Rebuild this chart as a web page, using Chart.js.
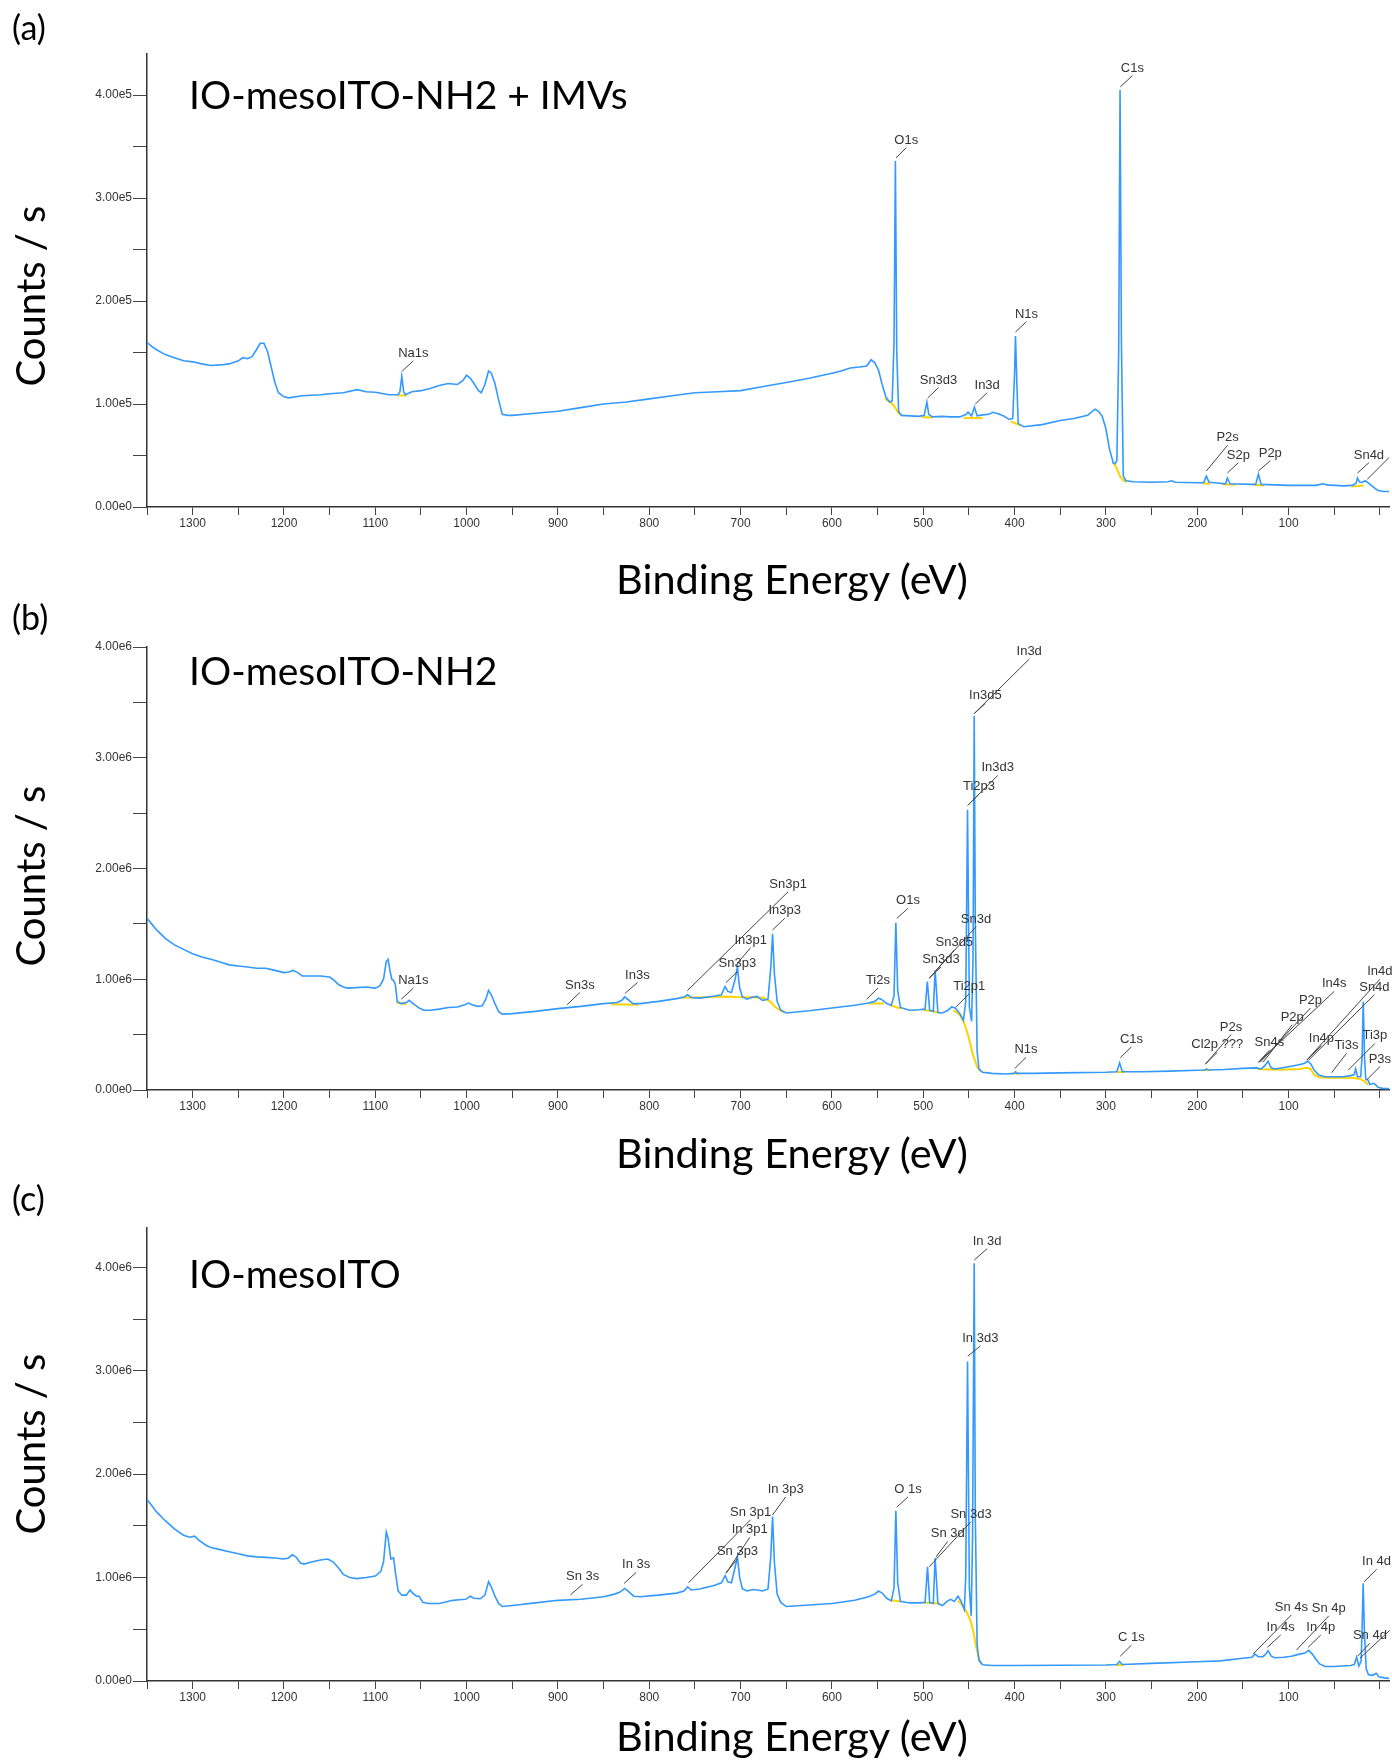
<!DOCTYPE html>
<html>
<head>
<meta charset="utf-8">
<script src="https://cdn.jsdelivr.net/npm/chart.js@4.4.1/dist/chart.umd.min.js"></script>
<style>
  body { margin: 0; background: #fff; width: 1392px; height: 1762px; position: relative; overflow: hidden; }
  canvas { position: absolute; left: 0; }
  .txt { position: absolute; font-family: Lato, "Open Sans", sans-serif; color: #000; line-height: 1; white-space: nowrap; }
  .tag { font-size: 34px; left: 12px; }
  .name { font-size: 39px; left: 189px; }
  .xt { font-size: 41.5px; left: 592px; width: 400px; text-align: center; }
  .yt { font-size: 40px; transform: translate(-50%, -50%) rotate(-90deg); left: 30px; }
</style>
</head>
<body>
<canvas id="chartA" width="1392" height="600" style="top:0px"></canvas>
<canvas id="chartB" width="1392" height="560" style="top:600px"></canvas>
<canvas id="chartC" width="1392" height="602" style="top:1160px"></canvas>

<div class="txt tag" style="top:10px">(a)</div>
<div class="txt name" style="top:75px">IO-mesoITO-NH2 + IMVs</div>
<div class="txt yt" style="top:296px">Counts / s</div>
<div class="txt xt" style="top:558px">Binding Energy (eV)</div>

<div class="txt tag" style="top:600px">(b)</div>
<div class="txt name" style="top:651px">IO-mesoITO-NH2</div>
<div class="txt yt" style="top:876px">Counts / s</div>
<div class="txt xt" style="top:1132px">Binding Energy (eV)</div>

<div class="txt tag" style="top:1181px">(c)</div>
<div class="txt name" style="top:1254px">IO-mesoITO</div>
<div class="txt yt" style="top:1444px">Counts / s</div>
<div class="txt xt" style="top:1715px">Binding Energy (eV)</div>

<script>
// x axis (binding energy, eV), shown reversed
const xMin = -10, xMax = 1350;
const xLabels = [1300, 1200, 1100, 1000, 900, 800, 700, 600, 500, 400, 300, 200, 100];

// ---------- (a) IO-mesoITO-NH2 + IMVs ----------
const aBlueBE = [1350, 1345, 1340, 1330, 1320, 1310, 1300, 1290, 1280, 1270, 1260, 1250, 1245, 1240, 1235, 1230, 1226, 1222, 1218, 1214, 1210, 1206, 1200, 1195, 1180, 1160, 1150, 1135, 1120, 1110, 1100, 1085, 1075, 1073, 1071, 1069, 1067, 1060, 1050, 1040, 1030, 1020, 1010, 1004, 1000, 996, 992, 987, 984, 980, 976, 973, 969, 965, 961, 955, 950, 925, 900, 875, 850, 825, 800, 775, 750, 725, 700, 675, 650, 625, 600, 590, 580, 570, 562, 557, 553, 549, 545, 541, 537, 534, 532, 530.5, 529, 527, 524, 515, 505, 499, 496, 494, 490, 480, 470, 460, 453, 451, 447, 444, 441, 435, 428, 424, 418, 412, 406, 402, 400, 399, 397.5, 396, 390, 370, 350, 335, 320, 312, 308, 304, 300, 296, 292, 290, 288, 286, 284.5, 283, 281, 278, 270, 250, 232, 228, 224, 200, 193, 190, 187, 175, 169, 167, 164, 140, 136, 133, 130, 100, 70, 62, 58, 40, 30, 26, 24.5, 22, 19, 16, 12, 6, 2, -4, -10];
const aBlueCps = [1.60e5, 1.56e5, 1.53e5, 1.48e5, 1.45e5, 1.42e5, 1.41e5, 1.39e5, 1.375e5, 1.38e5, 1.39e5, 1.42e5, 1.45e5, 1.44e5, 1.46e5, 1.53e5, 1.59e5, 1.59e5, 1.51e5, 1.36e5, 1.21e5, 1.11e5, 1.07e5, 1.06e5, 1.08e5, 1.09e5, 1.10e5, 1.11e5, 1.14e5, 1.12e5, 1.115e5, 1.09e5, 1.09e5, 1.12e5, 1.27e5, 1.12e5, 1.09e5, 1.12e5, 1.13e5, 1.15e5, 1.18e5, 1.20e5, 1.19e5, 1.23e5, 1.28e5, 1.25e5, 1.20e5, 1.13e5, 1.11e5, 1.19e5, 1.32e5, 1.30e5, 1.20e5, 1.04e5, 0.90e5, 0.89e5, 0.89e5, 0.91e5, 0.93e5, 0.965e5, 1.00e5, 1.02e5, 1.05e5, 1.08e5, 1.11e5, 1.12e5, 1.13e5, 1.17e5, 1.21e5, 1.25e5, 1.30e5, 1.32e5, 1.35e5, 1.36e5, 1.37e5, 1.43e5, 1.40e5, 1.33e5, 1.19e5, 1.07e5, 1.02e5, 1.03e5, 1.60e5, 3.36e5, 1.50e5, 0.93e5, 0.89e5, 0.885e5, 0.88e5, 0.89e5, 1.02e5, 0.90e5, 0.875e5, 0.88e5, 0.875e5, 0.875e5, 0.90e5, 0.92e5, 0.885e5, 0.97e5, 0.885e5, 0.895e5, 0.90e5, 0.92e5, 0.905e5, 0.885e5, 0.85e5, 0.86e5, 1.30e5, 1.66e5, 1.20e5, 0.81e5, 0.78e5, 0.80e5, 0.84e5, 0.86e5, 0.89e5, 0.95e5, 0.93e5, 0.88e5, 0.76e5, 0.56e5, 0.43e5, 0.42e5, 0.45e5, 1.50e5, 4.05e5, 1.60e5, 0.30e5, 0.255e5, 0.245e5, 0.24e5, 0.245e5, 0.255e5, 0.24e5, 0.235e5, 0.235e5, 0.30e5, 0.24e5, 0.23e5, 0.225e5, 0.28e5, 0.225e5, 0.22e5, 0.22e5, 0.32e5, 0.22e5, 0.21e5, 0.21e5, 0.225e5, 0.215e5, 0.205e5, 0.21e5, 0.23e5, 0.28e5, 0.24e5, 0.24e5, 0.255e5, 0.23e5, 0.185e5, 0.16e5, 0.15e5, 0.15e5];
const aBgBE = [1076, 1066, 1060, 542, 536, 531, 527, 522, 515, 502, 490, 480, 456, 435, 430, 404, 393, 390, 293, 290, 287, 284, 281, 278, 270, 194, 186, 180, 173, 158, 150, 138, 127, 120, 31, 18];
const aBgCps = [1.085e5, 1.08e5, null, 1.05e5, 1.02e5, 0.97e5, 0.91e5, 0.885e5, null, 0.875e5, 0.87e5, null, 0.865e5, 0.865e5, null, 0.83e5, 0.79e5, null, 0.43e5, 0.41e5, 0.35e5, 0.29e5, 0.26e5, 0.245e5, null, 0.23e5, 0.225e5, null, 0.22e5, 0.215e5, null, 0.215e5, 0.21e5, null, 0.20e5, 0.21e5];
// [label, BE at line foot, cps at line foot, BE at line head, cps at line head]
const aPeaks = [
  ['Na1s', 1070.6, 1.32e5, 1058.3, 1.42e5],
  ['O1s', 529.9, 3.39e5, 518.6, 3.49e5],
  ['Sn3d3', 495, 1.06e5, 483.3, 1.16e5],
  ['In3d', 443, 1.00e5, 430, 1.11e5],
  ['N1s', 399, 1.70e5, 387, 1.80e5],
  ['C1s', 284.3, 4.08e5, 271, 4.19e5],
  ['P2s', 190, 0.35e5, 166.7, 0.60e5],
  ['S2p', 167, 0.33e5, 155, 0.43e5],
  ['P2p', 133, 0.35e5, 120, 0.45e5],
  ['Sn4d', 24.5, 0.33e5, 12, 0.43e5],
  ['', 13.7, 0.27e5, -10, 0.48e5]
];

// ---------- (b) IO-mesoITO-NH2 ----------
const bBlueBE = [1350, 1345, 1340, 1330, 1320, 1310, 1300, 1290, 1280, 1270, 1260, 1250, 1240, 1230, 1220, 1210, 1200, 1195, 1190, 1185, 1180, 1170, 1160, 1150, 1145, 1140, 1135, 1130, 1110, 1100, 1095, 1091, 1088, 1086, 1084, 1082, 1080, 1078, 1076, 1072, 1066, 1063, 1060, 1057, 1052, 1047, 1040, 1030, 1020, 1010, 1002, 998, 994, 988, 983, 979, 976, 973, 969, 965, 961, 950, 925, 900, 875, 850, 835, 830, 827, 823, 818, 810, 790, 770, 762, 758, 754, 745, 730, 721, 717, 714, 710, 706, 703.5, 701, 698, 693, 687, 682, 676, 670, 667, 665, 663, 660, 656, 650, 625, 600, 575, 560, 553, 549, 546, 540, 535, 532, 530, 528, 525, 515, 505, 498, 495.5, 493, 489, 487, 484, 479, 473, 469, 465, 460, 456, 453.5, 451.5, 449.5, 447, 445.5, 444.2, 443, 441, 439, 435, 425, 410, 400.5, 399, 397.5, 380, 350, 300, 288, 285, 282, 260, 230, 200, 192, 190, 188, 170, 150, 135, 130, 126, 122.5, 119, 115, 100, 90, 83, 79, 76, 72, 67, 60, 50, 40, 32, 28, 26.5, 24.5, 21, 19.5, 18.2, 16.8, 15.5, 13, 11, 7, 5, 2, -3, -10];
const bBlueCps = [1.55e6, 1.50e6, 1.45e6, 1.37e6, 1.31e6, 1.27e6, 1.23e6, 1.20e6, 1.18e6, 1.155e6, 1.13e6, 1.12e6, 1.11e6, 1.10e6, 1.10e6, 1.08e6, 1.06e6, 1.065e6, 1.08e6, 1.06e6, 1.03e6, 1.03e6, 1.03e6, 1.02e6, 0.99e6, 0.95e6, 0.93e6, 0.92e6, 0.93e6, 0.92e6, 0.94e6, 1.00e6, 1.16e6, 1.18e6, 1.08e6, 1.00e6, 0.99e6, 0.95e6, 0.80e6, 0.78e6, 0.79e6, 0.81e6, 0.79e6, 0.77e6, 0.74e6, 0.72e6, 0.72e6, 0.73e6, 0.745e6, 0.75e6, 0.77e6, 0.785e6, 0.77e6, 0.755e6, 0.76e6, 0.82e6, 0.90e6, 0.86e6, 0.78e6, 0.71e6, 0.685e6, 0.69e6, 0.71e6, 0.735e6, 0.755e6, 0.78e6, 0.79e6, 0.81e6, 0.84e6, 0.815e6, 0.78e6, 0.78e6, 0.80e6, 0.825e6, 0.84e6, 0.86e6, 0.835e6, 0.83e6, 0.846e6, 0.86e6, 0.935e6, 0.89e6, 0.88e6, 1.00e6, 1.11e6, 0.92e6, 0.84e6, 0.82e6, 0.84e6, 0.845e6, 0.81e6, 0.82e6, 1.10e6, 1.41e6, 1.05e6, 0.80e6, 0.72e6, 0.695e6, 0.715e6, 0.74e6, 0.765e6, 0.786e6, 0.80e6, 0.83e6, 0.82e6, 0.78e6, 0.765e6, 0.85e6, 1.51e6, 0.90e6, 0.745e6, 0.72e6, 0.725e6, 0.73e6, 0.98e6, 0.72e6, 0.71e6, 1.08e6, 0.70e6, 0.695e6, 0.72e6, 0.75e6, 0.74e6, 0.69e6, 0.63e6, 0.80e6, 2.53e6, 0.75e6, 0.62e6, 1.20e6, 3.38e6, 1.50e6, 0.35e6, 0.19e6, 0.16e6, 0.15e6, 0.145e6, 0.15e6, 0.165e6, 0.15e6, 0.15e6, 0.155e6, 0.16e6, 0.165e6, 0.245e6, 0.165e6, 0.165e6, 0.17e6, 0.178e6, 0.18e6, 0.19e6, 0.18e6, 0.185e6, 0.195e6, 0.20e6, 0.19e6, 0.22e6, 0.26e6, 0.20e6, 0.19e6, 0.21e6, 0.225e6, 0.24e6, 0.26e6, 0.24e6, 0.18e6, 0.135e6, 0.12e6, 0.12e6, 0.12e6, 0.13e6, 0.14e6, 0.19e6, 0.12e6, 0.12e6, 0.30e6, 0.80e6, 0.30e6, 0.10e6, 0.09e6, 0.05e6, 0.06e6, 0.05e6, 0.025e6, 0.015e6, 0.012e6];
const bBgBE = [1077, 1066, 1000, 842, 812, 790, 766, 745, 720, 705, 690, 675, 668, 662, 657, 652, 600, 560, 543, 539, 537, 530, 524, 510, 500, 482, 475, 467, 460, 455, 450, 446, 441, 437, 420, 403, 395, 350, 289, 280, 250, 195, 185, 150, 134, 120, 100, 88, 80, 76, 72, 67, 55, 40, 30, 22, 17, 13];
const bBgCps = [0.79e6, 0.775e6, null, 0.775e6, 0.77e6, null, 0.835e6, 0.835e6, 0.845e6, 0.84e6, 0.838e6, 0.832e6, 0.80e6, 0.75e6, 0.72e6, 0.70e6, null, 0.78e6, 0.78e6, null, 0.77e6, 0.75e6, 0.735e6, null, 0.725e6, 0.70e6, null, 0.72e6, 0.68e6, 0.60e6, 0.47e6, 0.33e6, 0.21e6, 0.165e6, null, 0.148e6, 0.148e6, null, 0.163e6, 0.163e6, null, 0.178e6, 0.18e6, null, 0.19e6, 0.185e6, 0.185e6, 0.19e6, 0.20e6, 0.19e6, 0.14e6, 0.115e6, 0.11e6, 0.11e6, 0.11e6, 0.10e6, 0.08e6, 0.05e6];
const bPeaks = [
  ['Na1s', 1071.6, 0.82e6, 1058.3, 0.92e6],
  ['Sn3s', 890, 0.77e6, 876, 0.88e6],
  ['In3s', 826.5, 0.873e6, 813, 0.97e6],
  ['Sn3p1', 758.3, 0.897e6, 648, 1.79e6],
  ['Sn3p3', 716, 0.97e6, 703.5, 1.07e6],
  ['In3p1', 705, 1.13e6, 689, 1.285e6],
  ['In3p3', 665.1, 1.445e6, 651.7, 1.55e6],
  ['Ti2s', 562, 0.82e6, 549.6, 0.92e6],
  ['O1s', 529, 1.55e6, 516.7, 1.64e6],
  ['Sn3d3', 493.4, 1.01e6, 480.6, 1.11e6],
  ['Sn3d5', 486.1, 1.08e6, 466, 1.265e6],
  ['Sn3d', 493.4, 1.01e6, 442.2, 1.475e6],
  ['Ti2p1', 464.1, 0.75e6, 449.6, 0.87e6],
  ['Ti2p3', 451.3, 2.57e6, 439, 2.67e6],
  ['In3d3', 451.3, 2.57e6, 418.4, 2.84e6],
  ['In3d5', 444.1, 3.40e6, 432, 3.49e6],
  ['In3d', 444.1, 3.40e6, 384, 3.89e6],
  ['N1s', 399.8, 0.194e6, 387.5, 0.294e6],
  ['C1s', 284.3, 0.29e6, 272, 0.39e6],
  ['Cl2p ???', 191, 0.235e6, 178, 0.34e6],
  ['P2s', 191, 0.235e6, 163, 0.50e6],
  ['Sn4s', 133, 0.25e6, 121, 0.36e6],
  ['P2p', 128, 0.25e6, 96, 0.59e6],
  ['P2p', 131, 0.25e6, 76, 0.74e6],
  ['In4s', 133, 0.25e6, 50, 0.89e6],
  ['In4p', 80, 0.27e6, 64, 0.40e6],
  ['Ti3s', 52.9, 0.156e6, 36.6, 0.33e6],
  ['Ti3p', 34.6, 0.18e6, 5.5, 0.42e6],
  ['P3s', 14.6, 0.09e6, 0, 0.21e6],
  ['Sn4d', 78, 0.27e6, 6, 0.86e6],
  ['In4d', 80, 0.27e6, 0, 1.0e6]
];

// ---------- (c) IO-mesoITO ----------
const cBlueBE = [1350, 1345, 1340, 1330, 1320, 1310, 1303, 1298, 1293, 1285, 1280, 1270, 1260, 1250, 1240, 1230, 1220, 1210, 1200, 1195, 1191, 1187, 1182, 1178, 1170, 1160, 1152, 1146, 1140, 1135, 1128, 1120, 1110, 1100, 1094, 1091, 1088, 1086, 1083, 1080, 1078, 1075, 1071, 1066, 1062, 1059, 1055, 1052, 1048, 1042, 1030, 1015, 1008, 1001, 996, 992, 985, 980, 976, 973, 969, 965, 961, 950, 925, 900, 875, 850, 838, 832, 827, 822, 817, 810, 790, 770, 762, 758, 754, 745, 730, 721, 717, 714, 710, 706, 703.5, 701, 698, 693, 687, 682, 676, 670, 667, 665, 663, 660, 656, 650, 625, 600, 575, 560, 553, 549, 545, 540, 535, 532, 530, 528, 525, 515, 505, 498, 495.3, 493, 489, 487, 484, 479, 474, 470, 466, 462, 459, 455, 453.5, 451.5, 449.5, 447.5, 446, 444.2, 443, 441, 439, 435, 425, 400, 350, 300, 288, 285, 282, 250, 200, 175, 150, 140, 137, 133, 128, 125, 122.4, 119, 115, 105, 97, 88, 82, 78, 74, 70, 66, 60, 50, 42, 32, 28, 25.5, 23, 20.5, 19.5, 18.3, 17, 15, 12.5, 8, 4, 1, -5, -10];
const cBlueCps = [1.755e6, 1.70e6, 1.64e6, 1.55e6, 1.47e6, 1.41e6, 1.39e6, 1.40e6, 1.36e6, 1.31e6, 1.29e6, 1.27e6, 1.25e6, 1.23e6, 1.21e6, 1.20e6, 1.195e6, 1.19e6, 1.18e6, 1.19e6, 1.22e6, 1.20e6, 1.14e6, 1.13e6, 1.15e6, 1.17e6, 1.18e6, 1.15e6, 1.09e6, 1.03e6, 1.00e6, 0.99e6, 1.00e6, 1.015e6, 1.06e6, 1.15e6, 1.44e6, 1.38e6, 1.18e6, 1.19e6, 1.05e6, 0.87e6, 0.83e6, 0.83e6, 0.88e6, 0.85e6, 0.82e6, 0.82e6, 0.76e6, 0.75e6, 0.75e6, 0.78e6, 0.785e6, 0.79e6, 0.82e6, 0.80e6, 0.795e6, 0.83e6, 0.96e6, 0.91e6, 0.82e6, 0.75e6, 0.72e6, 0.73e6, 0.755e6, 0.78e6, 0.79e6, 0.815e6, 0.84e6, 0.86e6, 0.895e6, 0.86e6, 0.82e6, 0.815e6, 0.83e6, 0.85e6, 0.87e6, 0.91e6, 0.88e6, 0.89e6, 0.92e6, 0.95e6, 1.02e6, 0.96e6, 0.95e6, 1.10e6, 1.20e6, 1.00e6, 0.89e6, 0.87e6, 0.885e6, 0.88e6, 0.87e6, 0.89e6, 1.20e6, 1.59e6, 1.15e6, 0.84e6, 0.76e6, 0.72e6, 0.735e6, 0.75e6, 0.78e6, 0.815e6, 0.84e6, 0.87e6, 0.85e6, 0.80e6, 0.775e6, 0.90e6, 1.645e6, 0.95e6, 0.77e6, 0.755e6, 0.755e6, 0.76e6, 1.105e6, 0.76e6, 0.75e6, 1.19e6, 0.75e6, 0.73e6, 0.77e6, 0.79e6, 0.77e6, 0.82e6, 0.78e6, 0.69e6, 1.00e6, 3.09e6, 0.90e6, 0.63e6, 1.40e6, 4.04e6, 1.60e6, 0.35e6, 0.20e6, 0.157e6, 0.15e6, 0.15e6, 0.152e6, 0.155e6, 0.16e6, 0.19e6, 0.16e6, 0.17e6, 0.186e6, 0.195e6, 0.22e6, 0.23e6, 0.26e6, 0.235e6, 0.235e6, 0.26e6, 0.293e6, 0.24e6, 0.225e6, 0.23e6, 0.24e6, 0.26e6, 0.27e6, 0.296e6, 0.26e6, 0.21e6, 0.165e6, 0.14e6, 0.14e6, 0.145e6, 0.15e6, 0.16e6, 0.23e6, 0.145e6, 0.19e6, 0.50e6, 0.945e6, 0.50e6, 0.12e6, 0.06e6, 0.055e6, 0.075e6, 0.04e6, 0.03e6, 0.025e6];
const cBgBE = [537, 530, 524, 510, 500, 482, 470, 462, 456, 452, 448, 445, 442, 440, 438, 436, 350, 289, 280];
const cBgCps = [0.78e6, 0.775e6, 0.765e6, null, 0.76e6, 0.75e6, null, 0.78e6, 0.72e6, 0.66e6, 0.58e6, 0.47e6, 0.33e6, 0.25e6, 0.19e6, 0.16e6, null, 0.155e6, 0.158e6];
const cPeaks = [
  ['Sn 3s', 886.3, 0.833e6, 873, 0.935e6],
  ['In 3s', 827.6, 0.943e6, 814.4, 1.05e6],
  ['Sn 3p1', 757, 0.95e6, 689, 1.56e6],
  ['In 3p1', 716, 1.04e6, 690, 1.39e6],
  ['Sn 3p3', 715.7, 1.05e6, 703.4, 1.18e6],
  ['In 3p3', 665.1, 1.605e6, 650.6, 1.78e6],
  ['O 1s', 529, 1.68e6, 516.7, 1.78e6],
  ['Sn 3d', 486, 1.20e6, 473.2, 1.35e6],
  ['Sn 3d3', 493.4, 1.105e6, 447.7, 1.54e6],
  ['In 3d3', 451.3, 3.14e6, 437.5, 3.24e6],
  ['In 3d', 444.1, 4.07e6, 430.1, 4.18e6],
  ['C 1s', 284.3, 0.24e6, 272, 0.347e6],
  ['Sn 4s', 138.8, 0.26e6, 96.8, 0.64e6],
  ['In 4s', 123.1, 0.326e6, 108.6, 0.445e6],
  ['Sn 4p', 91.3, 0.30e6, 55.9, 0.63e6],
  ['In 4p', 78.5, 0.326e6, 64.7, 0.445e6],
  ['In 4d', 17.1, 0.96e6, 3.6, 1.08e6],
  ['Sn 4d', 24.4, 0.24e6, 10.9, 0.365e6],
  ['', 21.9, 0.22e6, -10.9, 0.49e6]
];

Chart.defaults.font.family = '"Liberation Sans", Arial, sans-serif';
Chart.defaults.color = '#333';

// leader lines + peak names, positioned through the chart scales
const peakLabels = {
  id: 'peakLabels',
  afterDatasetsDraw(chart, args, opts) {
    const { ctx } = chart;
    const x = chart.scales.x, y = chart.scales.y;
    ctx.save();
    ctx.strokeStyle = '#444';
    ctx.lineWidth = 1;
    ctx.fillStyle = '#333';
    ctx.font = '13px "Liberation Sans", Arial, sans-serif';
    ctx.textAlign = 'center';
    ctx.textBaseline = 'alphabetic';
    opts.list.forEach(([t, e0, c0, e1, c1]) => {
      const x0 = x.getPixelForValue(e0), y0 = y.getPixelForValue(c0);
      const x1 = x.getPixelForValue(e1), y1 = y.getPixelForValue(c1);
      ctx.beginPath();
      ctx.moveTo(x0, y0);
      ctx.lineTo(x1, y1);
      ctx.stroke();
      if (t) ctx.fillText(t, x1, y1 - 4);
    });
    ctx.restore();
  }
};

function points(be, cps) {
  return be.map((e, i) => ({ x: e, y: cps[i] }));
}

function makePanel(id, p) {
  const canvasTop = p.canvasTop, canvasH = p.canvasH;
  new Chart(document.getElementById(id), {
    type: 'line',
    data: {
      datasets: [
        { data: points(p.blueBE, p.blueCps), borderColor: '#3399ff', borderWidth: 1.6, pointRadius: 0, tension: 0 },
        { data: points(p.bgBE, p.bgCps), borderColor: '#ffd200', borderWidth: 2, pointRadius: 0, tension: 0, spanGaps: false }
      ]
    },
    options: {
      responsive: false,
      animation: false,
      devicePixelRatio: 1,
      layout: { padding: { top: p.areaTop - canvasTop, right: 3, left: 0, bottom: 0 } },
      plugins: {
        legend: { display: false },
        tooltip: { enabled: false },
        peakLabels: { list: p.peaks }
      },
      scales: {
        x: {
          type: 'linear',
          reverse: true,
          min: xMin,
          max: xMax,
          border: { display: true, color: '#333', width: 1.5 },
          grid: { drawOnChartArea: false, drawTicks: true, tickLength: 8, color: '#444' },
          ticks: {
            autoSkip: false, maxRotation: 0, padding: 1,
            font: { size: 12 }, color: '#333',
            callback: v => xLabels.includes(v) ? String(v) : ''
          },
          afterBuildTicks: s => {
            const t = [];
            for (let v = 0; v <= xMax; v += 50) t.push({ value: v });
            s.ticks = t;
          },
          afterFit: s => { s.height = canvasH - (p.areaBottom - canvasTop); }
        },
        y: {
          type: 'linear',
          min: 0,
          max: p.yMax,
          border: { display: true, color: '#333', width: 1.5 },
          grid: { drawOnChartArea: false, drawTicks: true, tickLength: 14, color: '#444' },
          ticks: {
            autoSkip: false, padding: 1,
            font: { size: 12 }, color: '#333',
            callback: v => {
              const k = Math.round(v / p.yUnit * 2);
              if (k % 2 !== 0) return '';
              return k === 0 ? '0.00e0' : (k / 2).toFixed(2) + 'e' + p.yExp;
            }
          },
          afterBuildTicks: s => {
            const t = [];
            for (let k = 0; k * p.yUnit / 2 <= p.yMax + 1; k++) t.push({ value: k * p.yUnit / 2 });
            s.ticks = t;
          },
          afterFit: s => { s.width = 147; }
        }
      }
    },
    plugins: [peakLabels]
  });
}

makePanel('chartA', {
  canvasTop: 0, canvasH: 600, areaTop: 54, areaBottom: 507,
  yMax: 4.40e5, yUnit: 1e5, yExp: 5,
  blueBE: aBlueBE, blueCps: aBlueCps, bgBE: aBgBE, bgCps: aBgCps, peaks: aPeaks
});
makePanel('chartB', {
  canvasTop: 600, canvasH: 560, areaTop: 647, areaBottom: 1090,
  yMax: 4.0e6, yUnit: 1e6, yExp: 6,
  blueBE: bBlueBE, blueCps: bBlueCps, bgBE: bBgBE, bgCps: bBgCps, peaks: bPeaks
});
makePanel('chartC', {
  canvasTop: 1160, canvasH: 602, areaTop: 1228, areaBottom: 1681,
  yMax: 4.38e6, yUnit: 1e6, yExp: 6,
  blueBE: cBlueBE, blueCps: cBlueCps, bgBE: cBgBE, bgCps: cBgCps, peaks: cPeaks
});
</script>
</body>
</html>
